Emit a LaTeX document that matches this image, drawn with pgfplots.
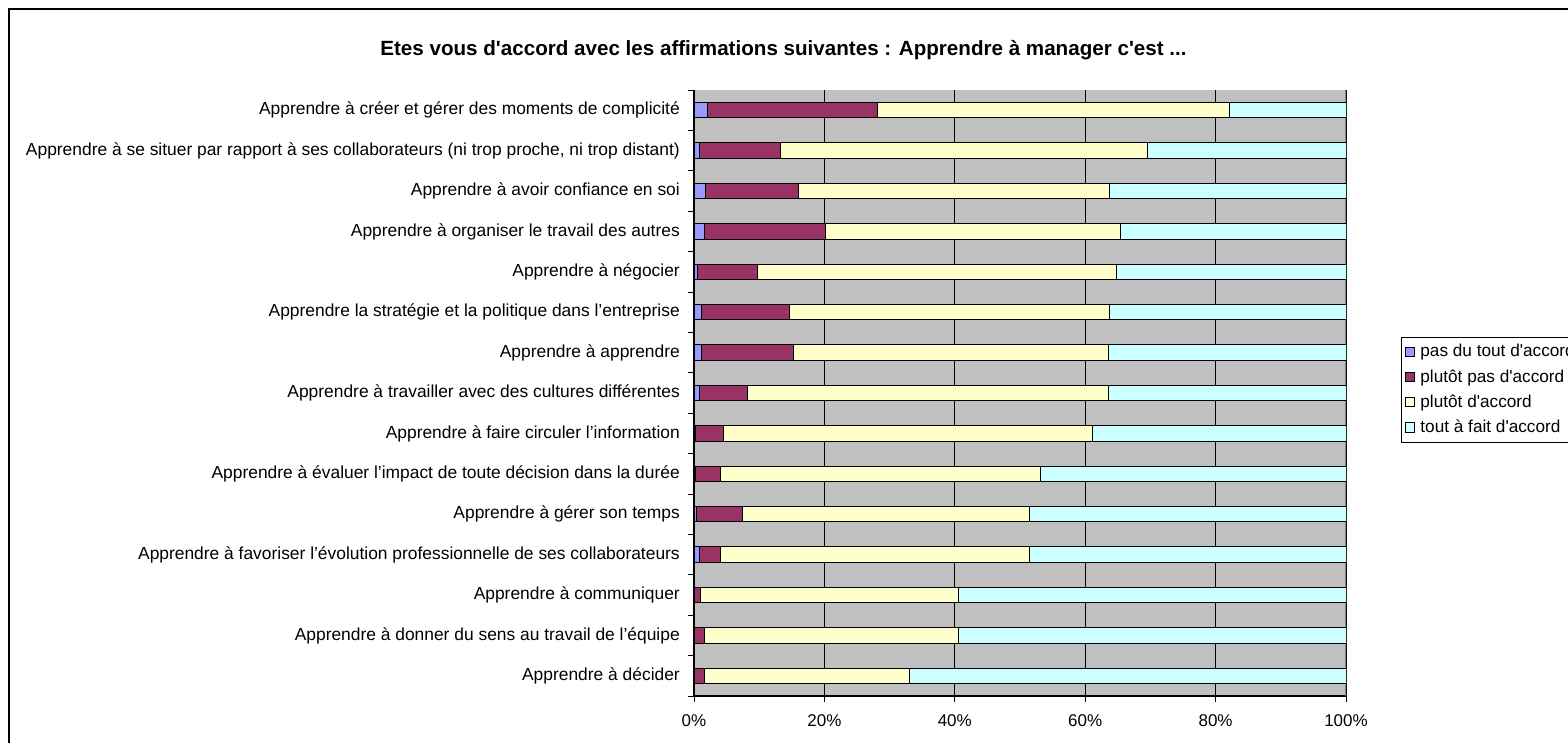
\documentclass[border=0pt]{standalone}
\usepackage{fontspec}
\setmainfont{Liberation Sans}
\usepackage{pgfplots}
\pgfplotsset{compat=1.18}
\definecolor{cblue}{RGB}{153,153,255}
\definecolor{cred}{RGB}{153,51,102}
\definecolor{cyel}{RGB}{255,255,204}
\definecolor{ccyan}{RGB}{204,255,255}
\definecolor{cgray}{RGB}{192,192,192}
\definecolor{cdgray}{RGB}{128,128,128}
\begin{document}
\begin{tikzpicture}
\fontsize{8.7}{10}\selectfont
\draw[black, line width=0.6pt] (4.5pt,-4.5pt) rectangle (820pt,-400pt);
\node[font=\bfseries\fontsize{10.3}{12}\selectfont] at (391.75pt,-25pt) {Etes vous d\textquotesingle accord avec les affirmations suivantes : Apprendre à manager c\textquotesingle est ...};
\begin{axis}[
  at={(347pt,-45pt)}, anchor=north west,
  scale only axis, width=326pt, height=303pt,
  xbar stacked, bar width=7.7pt,
  xmin=0, xmax=100, ymin=0.5, ymax=15.5, y dir=reverse,
  axis background/.style={fill=cgray},
  axis x line*=bottom, axis y line*=left, axis line style={black,-,line width=0.6pt},
  xtick={0,20,40,60,80,100}, xticklabels={0\%,20\%,40\%,60\%,80\%,100\%},
  xticklabel style={yshift=-3pt, font=\fontsize{8.5}{10}\selectfont},
  xmajorgrids, grid style={black, line width=0.6pt},
  tick align=outside, major tick length=3pt,
  tick style={black, line width=0.5pt},
  ytick={0.5,1.5,...,15.5}, yticklabels={},
  extra y ticks={1,2,...,15},
  extra y tick style={major tick length=0pt, yticklabel style={xshift=-4pt, font=\fontsize{8.7}{10}\selectfont}},
  extra y tick labels={
    Apprendre à créer et gérer des moments de complicité,
    Apprendre à se situer par rapport à ses collaborateurs (ni trop proche{,} ni trop distant),
    Apprendre à avoir confiance en soi,
    Apprendre à organiser le travail des autres,
    Apprendre à négocier,
    Apprendre la stratégie et la politique dans l’entreprise,
    Apprendre à apprendre,
    Apprendre à travailler avec des cultures différentes,
    Apprendre à faire circuler l’information,
    Apprendre à évaluer l’impact de toute décision dans la durée,
    Apprendre à gérer son temps,
    Apprendre à favoriser l’évolution professionnelle de ses collaborateurs,
    Apprendre à communiquer,
    Apprendre à donner du sens au travail de l’équipe,
    Apprendre à décider},
  every axis plot/.append style={draw=black, line width=0.5pt},
  legend style={at={(1.085,0.5924)}, anchor=north west,
    draw=black, fill=white, font=\fontsize{8.6}{10}\selectfont,
    row sep=1pt, inner xsep=1.5pt, inner ysep=1.5pt,
    nodes={inner xsep=2.5pt}},
  legend cell align=left,
  legend image code/.code={\draw[#1] (0pt,-2.4pt) rectangle (4.8pt,2.4pt);},
]
\addplot[fill=cblue] coordinates {(2.0,1) (0.8,2) (1.8,3) (1.6,4) (0.6,5) (1.2,6) (1.2,7) (0.8,8) (0.3,9) (0.3,10) (0.35,11) (0.8,12) (0,13) (0,14) (0,15)};
\addplot[fill=cred] coordinates {(26.1,1) (12.5,2) (14.2,3) (18.5,4) (9.2,5) (13.5,6) (14.0,7) (7.4,8) (4.2,9) (3.8,10) (7.15,11) (3.3,12) (1.0,13) (1.6,14) (1.6,15)};
\addplot[fill=cyel] coordinates {(54.1,1) (56.2,2) (47.8,3) (45.3,4) (55.0,5) (49.1,6) (48.4,7) (55.4,8) (56.6,9) (49.0,10) (44.0,11) (47.4,12) (39.5,13) (38.9,14) (31.4,15)};
\addplot[fill=ccyan] coordinates {(17.8,1) (30.5,2) (36.2,3) (34.6,4) (35.2,5) (36.2,6) (36.4,7) (36.4,8) (38.9,9) (46.9,10) (48.5,11) (48.5,12) (59.5,13) (59.5,14) (67.0,15)};
\legend{pas du tout d\textquotesingle accord, plutôt pas d\textquotesingle accord, plutôt d\textquotesingle accord, tout à fait d\textquotesingle accord}
\draw[cdgray, line width=0.6pt] (rel axis cs:1,0) -- (rel axis cs:1,1);
\end{axis}
\pgfresetboundingbox
\path[use as bounding box] (0,0) rectangle (784pt,-371.5pt);
\end{tikzpicture}
\end{document}
